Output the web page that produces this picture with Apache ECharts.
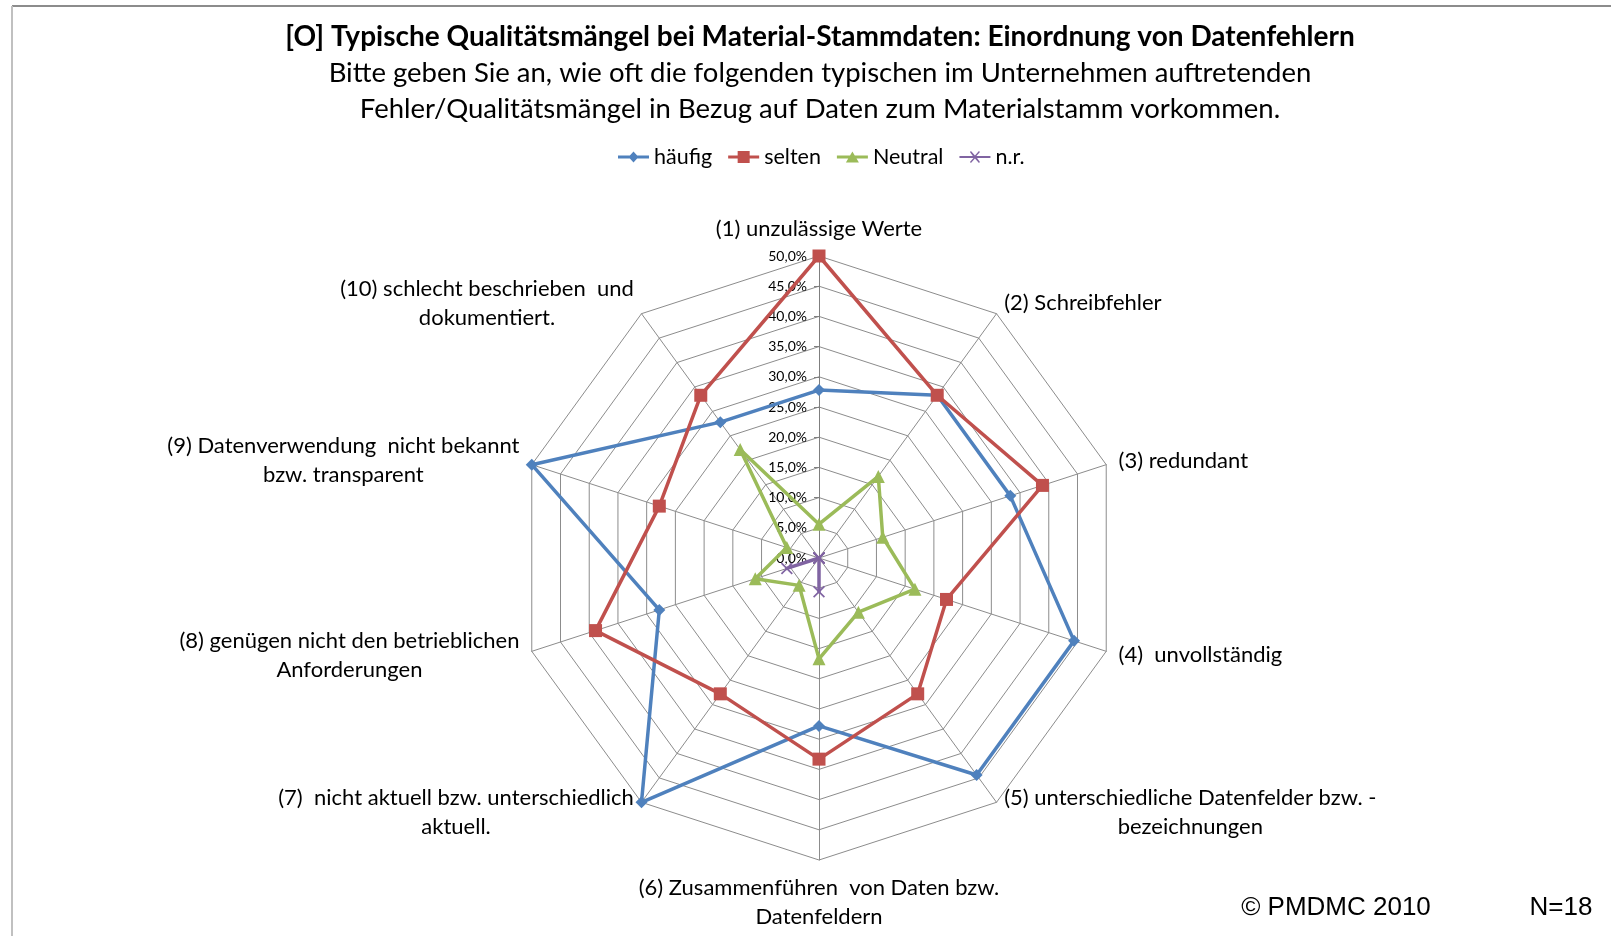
<!DOCTYPE html>
<html>
<head>
<meta charset="utf-8">
<title>Typische Qualitätsmängel bei Material-Stammdaten</title>
<script src="https://cdn.jsdelivr.net/npm/echarts@6/dist/echarts.min.js"></script>
<style>
  html, body { margin: 0; padding: 0; background: #fff; }
  #chart { width: 1611px; height: 936px; }
</style>
</head>
<body>
<div id="chart"></div>
<script>
// Kategorien (Achsen im Uhrzeigersinn ab oben)
const categories = [
  '(1) unzulässige Werte',
  '(2) Schreibfehler',
  '(3) redundant',
  '(4)  unvollständig',
  '(5) unterschiedliche Datenfelder bzw. -\nbezeichnungen',
  '(6) Zusammenführen  von Daten bzw.\nDatenfeldern',
  '(7)  nicht aktuell bzw. unterschiedlich\naktuell.',
  '(8) genügen nicht den betrieblichen\nAnforderungen',
  '(9) Datenverwendung  nicht bekannt\nbzw. transparent',
  '(10) schlecht beschrieben  und\ndokumentiert.'
]
// Anteile in % (N=18)
const haeufig = [27.8, 33.3, 33.3, 44.4, 44.4, 27.8, 50.0, 27.8, 50.0, 27.8]
const selten  = [50.0, 33.3, 38.9, 22.2, 27.8, 33.3, 27.8, 38.9, 27.8, 33.3]
const neutral = [5.6, 16.7, 11.1, 16.7, 11.1, 16.7, 5.6, 11.1, 5.6, 22.2]
const nr      = [0, 0, 0, 0, 0, 5.6, 0, 5.6, 0, 0]
const seriesNames = ['häufig', 'selten', 'Neutral', 'n.r.']
const axisMax = 50
const axisStep = 5

const colors = ['#4F81BD', '#C0504D', '#9BBB59', '#8064A2']
const font = 'Lato, "Noto Sans", sans-serif'
const gridColor = '#8C8C8C'

// Marker-Formen (Excel-Stil)
const xSymbol = 'path://M0,1L1,0L5,4L9,0L10,1L6,5L10,9L9,10L5,6L1,10L0,9L4,5Z'
const symbols = ['diamond', 'rect', 'triangle', xSymbol]
const symbolSizes = [12, 13, 13, 12]
// Legenden-Icons: Linie + Marker
const legendIcons = [
  'path://M0,4.5H31V7.5H0Z M15.5,0.5L20.5,6L15.5,11.5L10.5,6Z',
  'path://M0,4.5H31V7.5H0Z M9.5,0H21.5V12H9.5Z',
  'path://M0,4.5H31V7.5H0Z M15.5,0.5L22,11.5H9Z',
  'path://M0,5H31V7H0Z M10.5,1L11.5,0L15.5,4.5L19.5,0L20.5,1L16.5,5.5L20.5,11L19.5,12L15.5,7.5L11.5,12L10.5,11L14.5,6.5Z'
]

// ECharts zeichnet gegen den Uhrzeigersinn -> Reihenfolge nach Achse 1 umkehren
const order = categories.map((c, i) => (i === 0 ? 0 : categories.length - i))
const reorder = (arr) => order.map(i => arr[i])

const chart = echarts.init(document.getElementById('chart'))

const indicators = reorder(categories).map((name, i) => {
  const ind = { name: name, min: 0, max: axisMax }
  if (i === 0) {
    ind.axisLabel = { show: true }
    ind.axisTick = { show: true }
    ind.axisLine = { lineStyle: { color: '#7F7F7F' } }
  }
  return ind
})

const allValues = [haeufig, selten, neutral, nr]

const option = {
  backgroundColor: '#fff',
  animation: false,
  legend: {
    left: 613,
    top: 141,
    itemWidth: 31,
    itemHeight: 12,
    itemGap: 16,
    textStyle: { fontFamily: font, fontSize: 21.5, color: '#000' },
    data: seriesNames.map((n, i) => ({ name: n, icon: legendIcons[i], itemStyle: { color: colors[i] } }))
  },
  radar: {
    center: [819, 558],
    radius: 302,
    startAngle: 90,
    splitNumber: axisMax / axisStep,
    shape: 'polygon',
    nameGap: 13,
    axisName: {
      color: '#000',
      fontFamily: font,
      fontSize: 22,
      lineHeight: 29,
      formatter: (name) => name.split('\n').map(s => '{c|' + s + '}').join('\n'),
      rich: {
        c: { fontFamily: font, fontSize: 22, lineHeight: 29, color: '#000', align: 'center' }
      }
    },
    axisLabel: {
      show: false,
      margin: 12,
      fontFamily: font,
      fontSize: 14,
      color: '#000',
      formatter: (v) => v.toFixed(1).replace('.', ',') + '%'
    },
    axisTick: { show: false, length: 5, lineStyle: { color: '#7F7F7F' } },
    axisLine: { lineStyle: { color: gridColor, width: 1 } },
    splitLine: { lineStyle: { color: gridColor, width: 1 } },
    splitArea: { show: false },
    indicator: indicators
  },
  series: [{
    type: 'radar',
    data: seriesNames.map((n, i) => ({
      name: n,
      value: reorder(allValues[i]),
      symbol: symbols[i],
      symbolSize: symbolSizes[i],
      lineStyle: { color: colors[i], width: 3.5 },
      itemStyle: { color: colors[i] }
    }))
  }],
  graphic: [
    { type: 'line', shape: { x1: 12, y1: 6, x2: 1611, y2: 6 }, style: { stroke: '#8C8C8C', lineWidth: 2 } },
    { type: 'line', shape: { x1: 12, y1: 6, x2: 12, y2: 936 }, style: { stroke: '#C0C0C0', lineWidth: 2 } },
    { type: 'text', x: 820, y: 37, style: { text: '[O] Typische Qualitätsmängel bei Material-Stammdaten: Einordnung von Datenfehlern', fontFamily: font, fontWeight: 'bold', fontSize: 28, fill: '#000', textAlign: 'center', textVerticalAlign: 'middle' } },
    { type: 'text', x: 820, y: 73, style: { text: 'Bitte geben Sie an, wie oft die folgenden typischen im Unternehmen auftretenden', fontFamily: font, fontSize: 27.5, fill: '#000', textAlign: 'center', textVerticalAlign: 'middle' } },
    { type: 'text', x: 820, y: 109, style: { text: 'Fehler/Qualitätsmängel in Bezug auf Daten zum Materialstamm vorkommen.', fontFamily: font, fontSize: 27.5, fill: '#000', textAlign: 'center', textVerticalAlign: 'middle' } },
    { type: 'text', x: 1336, y: 908, style: { text: '© PMDMC 2010', fontFamily: '"Liberation Sans", Arial, sans-serif', fontSize: 26, fill: '#000', textAlign: 'center', textVerticalAlign: 'middle' } },
    { type: 'text', x: 1561, y: 908, style: { text: 'N=18', fontFamily: '"Liberation Sans", Arial, sans-serif', fontSize: 26, fill: '#000', textAlign: 'center', textVerticalAlign: 'middle' } }
  ]
}

chart.setOption(option)
</script>
</body>
</html>
